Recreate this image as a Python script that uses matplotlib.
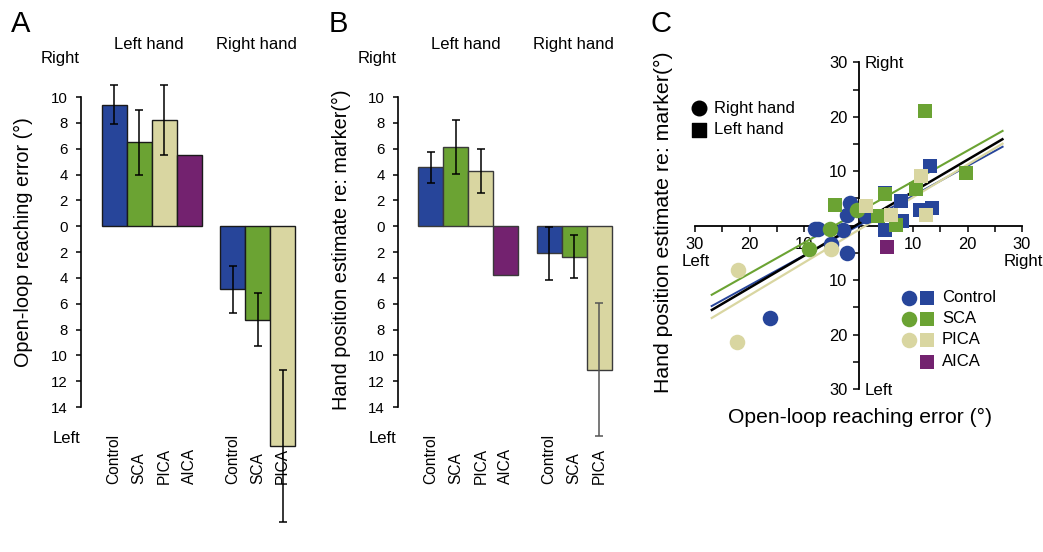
import matplotlib
matplotlib.use('Agg')
import matplotlib.pyplot as plt
import numpy as np

plt.rcParams['font.family'] = ['Liberation Sans', 'DejaVu Sans']

W, H = 1043, 552

# ---------------- data ----------------
groups = ['Control', 'SCA', 'PICA', 'AICA']
colors = {'Control': '#27459A', 'SCA': '#6BA333', 'PICA': '#D9D6A1', 'AICA': '#73226F'}

left_groups = ['Control', 'SCA', 'PICA', 'AICA']
right_groups = ['Control', 'SCA', 'PICA']

# Panel A: open-loop reaching error (deg), positive = right
a_left_vals = [9.4, 6.5, 8.2, 5.5]
a_left_err = [1.5, 2.5, 2.7, np.nan]
a_right_vals = [-4.9, -7.25, -17.0]
a_right_err = [1.8, 2.05, 5.9]

# Panel B: hand position estimate re: marker (deg)
b_left_vals = [4.55, 6.15, 4.25, -3.75]
b_left_err = [1.2, 2.1, 1.7, np.nan]
b_right_vals = [-2.1, -2.35, -11.1]
b_right_err = [2.05, 1.7, 5.15]

bar_ticks = [-14, -12, -10, -8, -6, -4, -2, 0, 2, 4, 6, 8, 10]

# Panel C: individual subjects (x = reaching error, y = hand estimate)
control_circle_x = [-7.9, -7.4, -2.8, -2.1, -1.6, 1.4, -5.1, -2.1, -16.3]
control_circle_y = [-0.6, -0.6, -0.8, 1.9, 4.1, 1.8, -3.4, -5.1, -16.9]
control_square_x = [4.8, 7.8, 7.9, 4.85, 11.2, 13.1, 13.4]
control_square_y = [6.0, 4.6, 0.8, -0.8, 2.9, 10.9, 3.2]
sca_circle_x = [-5.2, -9.0, -0.2]
sca_circle_y = [-0.7, -4.3, 2.8]
sca_square_x = [-4.4, 4.9, 3.5, 6.9, 10.5, 12.2, 19.8]
sca_square_y = [3.8, 5.8, 1.8, 0.2, 6.8, 21.1, 9.7]
pica_circle_x = [-5.0, -22.2, -22.3]
pica_circle_y = [-4.2, -8.1, -21.3]
pica_square_x = [1.3, 5.9, 11.5, 12.4]
pica_square_y = [3.6, 2.0, 9.2, 1.9]
aica_square_x = [5.2]
aica_square_y = [-3.9]

# regression fits (slope, intercept) and x-extent
fit_names = ['Control', 'PICA', 'SCA', 'All']
fit_slopes = [0.548, 0.60, 0.564, 0.588]
fit_intercepts = [0.0, -0.8, 2.49, 0.34]
fit_x_range = [-27.1, 26.6]

scatter_ticks_major = [-30, -20, -10, 10, 20, 30]
scatter_ticks_minor = [-25, -15, -5, 5, 15, 25]

# ---------------- helpers ----------------
def axrect(l, t, r, b):
    return [l / W, 1 - b / H, (r - l) / W, (b - t) / H]

fig = plt.figure(figsize=(W / 100, H / 100), dpi=100)

left_pos = [0, 1, 2, 3]
right_pos = [4.73, 5.73, 6.73]


def bar_panel(rect, lvals, lerr, rvals, rerr, edge, last_err_color):
    ax = fig.add_axes(rect)
    ax.set_xlim(-1.32, 7.5)
    ax.set_ylim(-14, 10)
    lc = [colors[g] for g in left_groups]
    rc = [colors[g] for g in right_groups]
    ax.bar(left_pos, lvals, width=1.0, color=lc, edgecolor=edge, linewidth=1.0,
           clip_on=False, zorder=2)
    ax.bar(right_pos, rvals, width=1.0, color=rc, edgecolor=edge, linewidth=1.0,
           clip_on=False, zorder=2)
    for p, v, e in zip(left_pos, lvals, lerr):
        if not np.isnan(e):
            ax.errorbar([p], [v], yerr=[e], fmt='none', ecolor='black',
                        elinewidth=1.1, capsize=2.7, capthick=1.1, clip_on=False, zorder=3)
    for i, (p, v, e) in enumerate(zip(right_pos, rvals, rerr)):
        ec = last_err_color if i == 2 else 'black'
        ax.errorbar([p], [v], yerr=[e], fmt='none', ecolor=ec,
                    elinewidth=1.1, capsize=2.7, capthick=1.1, clip_on=False, zorder=3)
    for s in ['top', 'right', 'bottom']:
        ax.spines[s].set_visible(False)
    ax.spines['left'].set_linewidth(1.2)
    ax.set_xticks([])
    ax.set_yticks(bar_ticks)
    ax.set_yticklabels([str(abs(t)) for t in bar_ticks])
    ax.tick_params(axis='y', direction='out', length=3.8, width=1.1,
                   labelsize=10.8, pad=5.5)
    for p, g in zip(left_pos, left_groups):
        ax.text(p, -19.95, g, rotation=90, ha='center', va='bottom',
                fontsize=11.2, clip_on=False)
    for p, g in zip(right_pos, right_groups):
        ax.text(p, -19.95, g, rotation=90, ha='center', va='bottom',
                fontsize=11.2, clip_on=False)
    ax.text(-1.36, 12.95, 'Right', ha='right', va='center', fontsize=12)
    ax.text(-1.36, -16.4, 'Left', ha='right', va='center', fontsize=12)
    ax.text(1.39, 14.05, 'Left hand', ha='center', va='center', fontsize=12)
    ax.text(5.7, 14.05, 'Right hand', ha='center', va='center', fontsize=12)
    ax.patch.set_visible(False)
    return ax

axA = bar_panel(axrect(81, 97, 302, 407), a_left_vals, a_left_err,
                a_right_vals, a_right_err, '#1a1a1a', 'black')
axB = bar_panel(axrect(397.7, 97, 618.5, 407), b_left_vals, b_left_err,
                b_right_vals, b_right_err, '#3a3a3a', '#555555')

fig.text(23 / W, 1 - 242 / H, 'Open-loop reaching error (°)', rotation=90,
         ha='center', va='center', fontsize=14.3)
fig.text(341 / W, 1 - 250 / H, 'Hand position estimate re: marker(°)', rotation=90,
         ha='center', va='center', fontsize=14.3)

# ---------------- panel C ----------------
axC = fig.add_axes(axrect(695, 62.3, 1022, 389))
axC.set_xlim(-30, 30)
axC.set_ylim(-30, 30)
axC.patch.set_visible(False)
for s in ['top', 'right']:
    axC.spines[s].set_visible(False)
axC.spines['left'].set_position(('data', 0))
axC.spines['bottom'].set_position(('data', 0))
axC.spines['left'].set_linewidth(1.3)
axC.spines['bottom'].set_linewidth(1.3)
axC.spines['left'].set_zorder(1.5)
axC.spines['bottom'].set_zorder(1.5)
axC.set_axisbelow(True)
axC.set_xticks(scatter_ticks_major)
axC.set_xticklabels([str(abs(t)) for t in scatter_ticks_major])
axC.set_yticks(scatter_ticks_major)
axC.set_yticklabels([str(abs(t)) for t in scatter_ticks_major])
axC.set_xticks(scatter_ticks_minor, minor=True)
axC.set_yticks(scatter_ticks_minor, minor=True)
axC.tick_params(which='both', direction='out', length=4, width=1.1,
                labelsize=11.9, pad=4)

fit_colors = [colors['Control'], colors['PICA'], colors['SCA'], 'black']
fit_widths = [1.4, 1.6, 1.5, 1.8]
xr = np.array(fit_x_range)
for name, m, b, c, lw in zip(fit_names, fit_slopes, fit_intercepts, fit_colors, fit_widths):
    axC.plot(xr, m * xr + b, color=c, lw=lw, zorder=2.8, solid_capstyle='butt')

cs, ss = 125, 105
axC.scatter(control_circle_x, control_circle_y, s=cs, marker='o', color=colors['Control'],
            linewidths=0, zorder=3, clip_on=False)
axC.scatter(control_square_x, control_square_y, s=ss, marker='s', color=colors['Control'],
            linewidths=0, zorder=3, clip_on=False)
axC.scatter(sca_circle_x, sca_circle_y, s=cs, marker='o', color=colors['SCA'],
            linewidths=0, zorder=3.1, clip_on=False)
axC.scatter(sca_square_x, sca_square_y, s=ss, marker='s', color=colors['SCA'],
            linewidths=0, zorder=3.1, clip_on=False)
axC.scatter(pica_circle_x, pica_circle_y, s=cs, marker='o', color=colors['PICA'],
            linewidths=0, zorder=3.2, clip_on=False)
axC.scatter(pica_square_x, pica_square_y, s=ss, marker='s', color=colors['PICA'],
            linewidths=0, zorder=3.2, clip_on=False)
axC.scatter(aica_square_x, aica_square_y, s=ss, marker='s', color=colors['AICA'],
            linewidths=0, zorder=3.3, clip_on=False)

# direction labels
axC.text(1.1, 29.8, 'Right', ha='left', va='center', fontsize=12.2, clip_on=False)
axC.text(1.1, -30.2, 'Left', ha='left', va='center', fontsize=12.2, clip_on=False)
axC.text(-29.8, -6.5, 'Left', ha='center', va='center', fontsize=12.2, clip_on=False)
axC.text(30.2, -6.5, 'Right', ha='center', va='center', fontsize=12.2, clip_on=False)

# legend: hand
axC.scatter([-29.2], [21.6], s=110, marker='o', color='black', zorder=4, clip_on=False)
axC.scatter([-29.2], [17.6], s=95, marker='s', color='black', zorder=4, clip_on=False)
axC.text(-26.6, 21.6, 'Right hand', ha='left', va='center', fontsize=12)
axC.text(-26.6, 17.6, 'Left hand', ha='left', va='center', fontsize=12)

# legend: groups
leg_rows_y = [-13.2, -17.1, -21.0, -25.0]
for g, yy in zip(groups, leg_rows_y):
    if g != 'AICA':
        axC.scatter([9.2], [yy], s=cs, marker='o', color=colors[g], linewidths=0, zorder=4)
    axC.scatter([12.5], [yy], s=ss, marker='s', color=colors[g], linewidths=0, zorder=4)
    axC.text(15.3, yy, g, ha='left', va='center', fontsize=12)

fig.text(663 / W, 1 - 222 / H, 'Hand position estimate re: marker(°)', rotation=90,
         ha='center', va='center', fontsize=15.3)
fig.text(860 / W, 1 - 417 / H, 'Open-loop reaching error (°)',
         ha='center', va='center', fontsize=15.2)

# panel letters
fig.text(11 / W, 1 - 32 / H, 'A', fontsize=21, ha='left', va='baseline')
fig.text(329 / W, 1 - 32 / H, 'B', fontsize=21, ha='left', va='baseline')
fig.text(651 / W, 1 - 32 / H, 'C', fontsize=21, ha='left', va='baseline')

fig.savefig('out.png', dpi=100)
